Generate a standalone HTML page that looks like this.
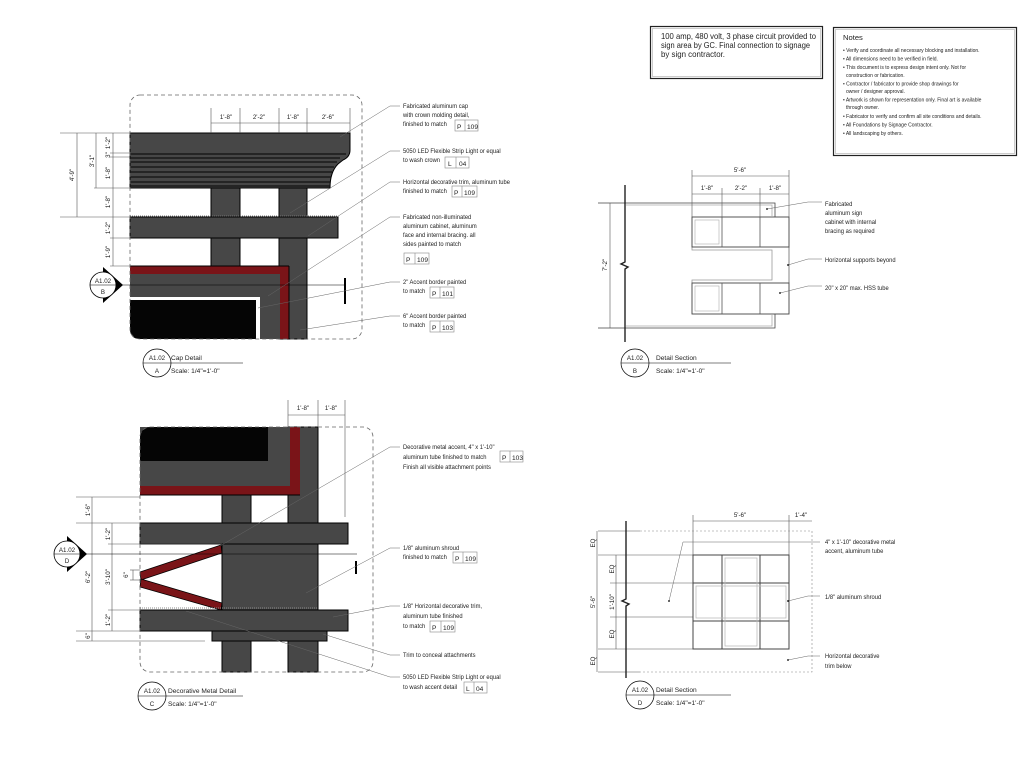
<!DOCTYPE html>
<html><head><meta charset="utf-8"><style>
html,body{margin:0;padding:0;background:#fff;}
svg{display:block;}
text{font-family:"Liberation Sans Narrow","Liberation Sans",sans-serif;fill:#222;}
.s{font-size:6.6px;}
.d{font-size:6.2px;}
.n{font-size:5px;}
</style></head><body>
<svg width="1024" height="763" viewBox="0 0 1024 763" xmlns="http://www.w3.org/2000/svg">
<rect width="1024" height="763" fill="#fff"/>

<!-- ============ CAP DETAIL (A) ============ -->
<g stroke="#000" stroke-width="1">
<rect x="211" y="186" width="29" height="82" fill="#474747"/>
<rect x="279" y="186" width="28" height="153" fill="#474747"/>
<path d="M130,133 H350 V150 Q350,157 343,160 L338,164 Q330,172 330,188 H130 Z" fill="#474747"/>
</g>
<g stroke="#111" stroke-width="1.2">
<line x1="130" y1="154" x2="346" y2="154"/><line x1="130" y1="158" x2="340" y2="158"/>
<line x1="130" y1="162" x2="337" y2="162"/><line x1="130" y1="167" x2="334" y2="167"/>
<line x1="130" y1="172" x2="332" y2="172"/><line x1="130" y1="177" x2="331" y2="177"/>
<line x1="130" y1="182" x2="330" y2="182"/><line x1="130" y1="186" x2="330" y2="186"/>
</g>
<line x1="130" y1="216" x2="338" y2="216" stroke="#777" stroke-dasharray="1,1"/>
<rect x="130" y="217" width="208" height="21" fill="#474747" stroke="#000"/>
<rect x="130" y="266" width="159" height="8" fill="#7a1418"/>
<rect x="280" y="266" width="9" height="73" fill="#7a1418"/>
<rect x="130" y="274" width="150" height="23" fill="#474747"/>
<rect x="260" y="274" width="20" height="65" fill="#474747"/>
<path d="M130,300 H256 V339 H140 Q130,339 130,329 Z" fill="#050505"/>
<line x1="130" y1="266" x2="289" y2="266" stroke="#000"/>
<line x1="289" y1="266" x2="289" y2="339" stroke="#000"/>
<rect x="130" y="95" width="232" height="244" rx="10" fill="none" stroke="#666" stroke-dasharray="4,3" stroke-width="0.8"/>
<g stroke="#555" stroke-width="0.6">
<line x1="211" y1="123" x2="350" y2="123"/>
<line x1="211" y1="108" x2="211" y2="133"/><line x1="240" y1="108" x2="240" y2="133"/>
<line x1="279" y1="108" x2="279" y2="133"/><line x1="307" y1="108" x2="307" y2="133"/>
<line x1="350" y1="108" x2="350" y2="133"/>
<line x1="60" y1="133" x2="130" y2="133"/><line x1="60" y1="217" x2="130" y2="217"/>
<line x1="77" y1="133" x2="77" y2="217"/>
<line x1="96" y1="133" x2="96" y2="188"/><line x1="94" y1="188" x2="130" y2="188"/>
<line x1="113" y1="133" x2="113" y2="266"/>
<line x1="110" y1="153" x2="130" y2="153"/><line x1="110" y1="157" x2="130" y2="157"/>
<line x1="110" y1="238" x2="130" y2="238"/><line x1="110" y1="266" x2="130" y2="266"/>
</g>
<g class="d" text-anchor="middle">
<text x="226" y="119">1'-8"</text><text x="259" y="119">2'-2"</text>
<text x="293" y="119">1'-8"</text><text x="328" y="119">2'-6"</text>
<text transform="translate(74,175) rotate(-90)">4'-9"</text>
<text transform="translate(94,161) rotate(-90)">3'-1"</text>
<text transform="translate(110,143) rotate(-90)">1'-2"</text>
<text transform="translate(110,155) rotate(-90)">3"</text>
<text transform="translate(110,173) rotate(-90)">1'-8"</text>
<text transform="translate(110,202) rotate(-90)">1'-8"</text>
<text transform="translate(110,228) rotate(-90)">1'-2"</text>
<text transform="translate(110,252) rotate(-90)">1'-9"</text>
</g>
<line x1="117" y1="285" x2="345" y2="285" stroke="#000" stroke-width="0.6"/>
<line x1="345" y1="278" x2="345" y2="304" stroke="#000" stroke-width="2"/>
<polygon points="103,267 123,285 103,303" fill="#000"/>
<circle cx="103" cy="285" r="13" fill="#fff" stroke="#000" stroke-width="0.8"/>
<line x1="90" y1="285" x2="116" y2="285" stroke="#000" stroke-width="0.6"/>
<text x="103" y="283" class="d" text-anchor="middle">A1.02</text>
<text x="103" y="294" class="d" text-anchor="middle">B</text>
<circle cx="157" cy="363" r="14" fill="none" stroke="#000" stroke-width="0.7"/>
<line x1="143" y1="363" x2="243" y2="363" stroke="#000" stroke-width="0.6"/>
<text x="157" y="360" class="d" text-anchor="middle">A1.02</text>
<text x="157" y="373" class="d" text-anchor="middle">A</text>
<text x="171" y="360" class="s" font-size="7.2">Cap Detail</text>
<text x="171" y="373" class="s">Scale:  1/4"=1'-0"</text>

<g stroke="#666" stroke-width="0.5" fill="none">
<polyline points="340,137 390,106 400,106"/>
<polyline points="290,213 390,151 400,151"/>
<polyline points="308,236 390,182 400,182"/>
<polyline points="268,296 390,217 400,217"/>
<polyline points="258,308 390,282 400,282"/>
<polyline points="300,330 390,316 400,316"/>
</g>
<g class="s" transform="matrix(0.88,0,0,1,48.36,0)">
<text x="403" y="108">Fabricated aluminum cap</text>
<text x="403" y="117">with crown molding detail,</text>
<text x="403" y="126">finished to match</text>
<text x="403" y="153">5050 LED Flexible Strip Light or equal</text>
<text x="403" y="162">to wash crown</text>
<text x="403" y="184">Horizontal decorative trim, aluminum tube</text>
<text x="403" y="193">finished to match</text>
<text x="403" y="219">Fabricated non-illuminated</text>
<text x="403" y="228">aluminum cabinet, aluminum</text>
<text x="403" y="237">face and internal bracing. all</text>
<text x="403" y="246">sides painted to match</text>
<text x="403" y="284">2" Accent border painted</text>
<text x="403" y="293">to match</text>
<text x="403" y="318">6" Accent border painted</text>
<text x="403" y="327">to match</text>
</g>
<g stroke="#888" stroke-width="0.6" fill="none">
<rect x="455" y="120" width="23" height="11"/><line x1="465" y1="120" x2="465" y2="131"/>
<rect x="445" y="157" width="24" height="11"/><line x1="456" y1="157" x2="456" y2="168"/>
<rect x="452" y="186" width="25" height="11"/><line x1="462" y1="186" x2="462" y2="197"/>
<rect x="404" y="253" width="25" height="11"/><line x1="415" y1="253" x2="415" y2="264"/>
<rect x="430" y="287" width="24" height="11"/><line x1="440" y1="287" x2="440" y2="298"/>
<rect x="430" y="321" width="24" height="11"/><line x1="440" y1="321" x2="440" y2="332"/>
</g>
<g class="s">
<text x="457" y="129">P</text><text x="467" y="129">109</text>
<text x="448" y="166">L</text><text x="459" y="166">04</text>
<text x="454" y="195">P</text><text x="464" y="195">109</text>
<text x="406" y="262">P</text><text x="417" y="262">109</text>
<text x="432" y="296">P</text><text x="442" y="296">101</text>
<text x="432" y="330">P</text><text x="442" y="330">103</text>
</g>

<!-- ============ DECORATIVE METAL DETAIL (C) ============ -->
<rect x="222" y="494" width="29" height="178" fill="#474747" stroke="#000"/>
<rect x="288" y="427" width="30" height="245" fill="#474747" stroke="#000"/>
<path d="M140,427 H272 V464 H140 Z" fill="#474747"/>
<path d="M152,427 H268 V461 H140 V439 Q140,427 152,427 Z" fill="#050505"/>
<rect x="140" y="464" width="150" height="22" fill="#474747"/>
<rect x="272" y="427" width="18" height="59" fill="#474747"/>
<rect x="140" y="486" width="160" height="9" fill="#7a1418"/>
<rect x="290" y="427" width="10" height="68" fill="#7a1418"/>
<line x1="140" y1="495" x2="300" y2="495" stroke="#000"/>
<rect x="140" y="523" width="208" height="21" fill="#474747" stroke="#000"/>
<rect x="222" y="544" width="96" height="66" fill="#474747" stroke="#000"/>
<polygon points="140,572 221,545 222,553 141,580" fill="#7a1418" stroke="#000" stroke-width="0.8"/>
<polygon points="141,579 222,603 221,610 140,587" fill="#7a1418" stroke="#000" stroke-width="0.8"/>
<line x1="140" y1="608" x2="318" y2="608" stroke="#888" stroke-dasharray="1,1"/>
<rect x="140" y="610" width="208" height="21" fill="#474747" stroke="#000"/>
<rect x="212" y="631" width="115" height="10" fill="#474747" stroke="#000"/>
<rect x="140" y="427" width="233" height="245" rx="10" fill="none" stroke="#666" stroke-dasharray="4,3" stroke-width="0.8"/>
<g stroke="#555" stroke-width="0.6">
<line x1="288" y1="415" x2="345" y2="415"/>
<line x1="288" y1="400" x2="288" y2="427"/><line x1="318" y1="400" x2="318" y2="427"/>
<line x1="345" y1="400" x2="345" y2="517"/>
<line x1="76" y1="497" x2="140" y2="497"/><line x1="76" y1="523" x2="140" y2="523"/>
<line x1="92" y1="497" x2="92" y2="641"/>
<line x1="76" y1="631" x2="140" y2="631"/><line x1="76" y1="641" x2="205" y2="641"/>
<line x1="112" y1="523" x2="112" y2="631"/>
<line x1="108" y1="544" x2="222" y2="544"/><line x1="108" y1="610" x2="140" y2="610"/>
<line x1="130" y1="570" x2="140" y2="570"/><line x1="130" y1="580" x2="140" y2="580"/>
<line x1="133" y1="570" x2="133" y2="580"/>
</g>
<g class="d" text-anchor="middle">
<text x="303" y="410">1'-8"</text><text x="331" y="410">1'-8"</text>
<text transform="translate(90,510) rotate(-90)">1'-6"</text>
<text transform="translate(90,577) rotate(-90)">6'-2"</text>
<text transform="translate(90,636) rotate(-90)">6"</text>
<text transform="translate(110,534) rotate(-90)">1'-2"</text>
<text transform="translate(110,577) rotate(-90)">3'-10"</text>
<text transform="translate(110,620) rotate(-90)">1'-2"</text>
<text transform="translate(128,575) rotate(-90)">6"</text>
</g>
<line x1="81" y1="554" x2="357" y2="554" stroke="#000" stroke-width="0.6"/>
<line x1="356" y1="561" x2="356" y2="574" stroke="#000" stroke-width="2"/>
<polygon points="67,536 87,554 67,572" fill="#000"/>
<circle cx="67" cy="554" r="13" fill="#fff" stroke="#000" stroke-width="0.8"/>
<line x1="54" y1="554" x2="80" y2="554" stroke="#000" stroke-width="0.6"/>
<text x="67" y="552" class="d" text-anchor="middle">A1.02</text>
<text x="67" y="563" class="d" text-anchor="middle">D</text>
<circle cx="152" cy="696" r="14" fill="none" stroke="#000" stroke-width="0.7"/>
<line x1="138" y1="696" x2="243" y2="696" stroke="#000" stroke-width="0.6"/>
<text x="152" y="693" class="d" text-anchor="middle">A1.02</text>
<text x="152" y="706" class="d" text-anchor="middle">C</text>
<text x="168" y="693" class="s" font-size="7.2">Decorative Metal Detail</text>
<text x="168" y="706" class="s">Scale:  1/4"=1'-0"</text>
<g stroke="#666" stroke-width="0.5" fill="none">
<polyline points="220,546 390,447 400,447"/>
<polyline points="306,593 390,548 400,548"/>
<polyline points="333,617 390,606 400,606"/>
<polyline points="323,634 390,655 400,655"/>
<polyline points="186,611 390,677 400,677"/>
</g>
<g class="s" transform="matrix(0.88,0,0,1,48.36,0)">
<text x="403" y="449">Decorative metal accent, 4" x 1'-10"</text>
<text x="403" y="459">aluminum tube finished to match</text>
<text x="403" y="469">Finish all visible attachment points</text>
<text x="403" y="550">1/8" aluminum shroud</text>
<text x="403" y="559">finished to match</text>
<text x="403" y="608">1/8" Horizontal decorative trim,</text>
<text x="403" y="618">aluminum tube finished</text>
<text x="403" y="628">to match</text>
<text x="403" y="657">Trim to conceal attachments</text>
<text x="403" y="679">5050 LED Flexible Strip Light or equal</text>
<text x="403" y="689">to wash accent detail</text>
</g>
<g stroke="#888" stroke-width="0.6" fill="none">
<rect x="500" y="451" width="23" height="11"/><line x1="510" y1="451" x2="510" y2="462"/>
<rect x="453" y="552" width="24" height="11"/><line x1="463" y1="552" x2="463" y2="563"/>
<rect x="430" y="621" width="25" height="11"/><line x1="441" y1="621" x2="441" y2="632"/>
<rect x="464" y="682" width="23" height="11"/><line x1="474" y1="682" x2="474" y2="693"/>
</g>
<g class="s">
<text x="502" y="460">P</text><text x="512" y="460">103</text>
<text x="455" y="561">P</text><text x="465" y="561">109</text>
<text x="432" y="630">P</text><text x="443" y="630">109</text>
<text x="466" y="691">L</text><text x="476" y="691">04</text>
</g>

<!-- ============ DETAIL SECTION B ============ -->
<g fill="none">
<path d="M598,203 H775 V217" stroke="#444" stroke-width="0.8"/>
<path d="M626,205 H772 V216" stroke="#aaa" stroke-width="0.8"/>
<path d="M598,328 H775 V314" stroke="#444" stroke-width="0.8"/>
<path d="M626,326 H772 V315" stroke="#aaa" stroke-width="0.8"/>
<path d="M692,247 V250 H772 V280 H692 V283" stroke="#999" stroke-width="0.8"/>
<path d="M789,247 V283" stroke="#999" stroke-width="1.2"/>
<rect x="692" y="217" width="97" height="30" stroke="#444" stroke-width="0.9"/>
<rect x="692" y="283" width="97" height="31" stroke="#444" stroke-width="0.9"/>
<g stroke="#555" stroke-width="0.8">
<line x1="722" y1="217" x2="722" y2="247"/><line x1="760" y1="217" x2="760" y2="247"/>
<line x1="722" y1="283" x2="722" y2="314"/><line x1="760" y1="283" x2="760" y2="314"/>
</g>
<rect x="695" y="220" width="24" height="24" stroke="#aaa" stroke-width="0.6"/>
<rect x="695" y="286" width="24" height="25" stroke="#aaa" stroke-width="0.6"/>
</g>
<path d="M625,185 V262 L621,264 L628,267 L625,269 V342" stroke="#222" stroke-width="1.4" fill="none"/>
<g stroke="#555" stroke-width="0.6">
<line x1="692" y1="176" x2="789" y2="176"/><line x1="692" y1="194" x2="789" y2="194"/>
<line x1="692" y1="170" x2="692" y2="217"/><line x1="722" y1="188" x2="722" y2="217"/>
<line x1="760" y1="188" x2="760" y2="217"/><line x1="789" y1="170" x2="789" y2="217"/>
<line x1="610" y1="203" x2="610" y2="328"/>
</g>
<g class="d" text-anchor="middle">
<text x="740" y="172">5'-6"</text>
<text x="707" y="190">1'-8"</text><text x="741" y="190">2'-2"</text><text x="775" y="190">1'-8"</text>
<text transform="translate(607,265) rotate(-90)">7'-2"</text>
</g>
<g stroke="#666" stroke-width="0.5" fill="none">
<polyline points="767,209 808,202 822,202"/>
<polyline points="788,265 808,259 822,259"/>
<polyline points="780,293 808,286 822,286"/>
</g>
<g fill="#000"><circle cx="767" cy="209" r="0.9"/><circle cx="788" cy="265" r="0.9"/><circle cx="780" cy="293" r="0.9"/></g>
<g class="s" transform="matrix(0.88,0,0,1,99,0)">
<text x="825" y="206">Fabricated</text>
<text x="825" y="215">aluminum sign</text>
<text x="825" y="224">cabinet with internal</text>
<text x="825" y="233">bracing as required</text>
<text x="825" y="262">Horizontal supports beyond</text>
<text x="825" y="290">20" x 20" max. HSS tube</text>
</g>
<circle cx="635" cy="363" r="14" fill="none" stroke="#000" stroke-width="0.7"/>
<line x1="621" y1="363" x2="731" y2="363" stroke="#000" stroke-width="0.6"/>
<text x="635" y="360" class="d" text-anchor="middle">A1.02</text>
<text x="635" y="373" class="d" text-anchor="middle">B</text>
<text x="656" y="360" class="s" font-size="7.2">Detail Section</text>
<text x="656" y="373" class="s">Scale:  1/4"=1'-0"</text>

<!-- ============ DETAIL SECTION D ============ -->
<g stroke="#555" stroke-width="0.6">
<line x1="598" y1="531" x2="640" y2="531"/>
<line x1="598" y1="672" x2="640" y2="672"/>
<line x1="598" y1="555" x2="693" y2="555"/>
<line x1="598" y1="649" x2="693" y2="649"/>
<line x1="610" y1="583" x2="693" y2="583"/>
<line x1="610" y1="617" x2="693" y2="617"/>
<line x1="597" y1="531" x2="597" y2="672"/>
<line x1="616" y1="555" x2="616" y2="649"/>
<line x1="693" y1="521" x2="812" y2="521"/>
<line x1="693" y1="515" x2="693" y2="555"/>
<line x1="789" y1="515" x2="789" y2="555"/>
</g>
<g stroke="#888" stroke-width="0.6" stroke-dasharray="2,2" fill="none">
<path d="M640,531 H812 V672 H640"/>
</g>
<g stroke="#444" stroke-width="1" fill="none">
<rect x="693" y="555" width="96" height="94"/>
<line x1="722" y1="555" x2="722" y2="649"/><line x1="760" y1="555" x2="760" y2="649"/>
<line x1="693" y1="583" x2="789" y2="583"/><line x1="693" y1="621" x2="789" y2="621"/>
</g>
<g stroke="#bbb" stroke-width="0.8" fill="none">
<rect x="725" y="558" width="32" height="88"/>
<rect x="696" y="586" width="90" height="32"/>
</g>
<path d="M626,521 V599 L622,601 L629,604 L626,606 V678" stroke="#222" stroke-width="1.4" fill="none"/>
<g class="d" text-anchor="middle">
<text x="740" y="517">5'-6"</text><text x="801" y="517">1'-4"</text>
<text transform="translate(595,543) rotate(-90)">EQ</text>
<text transform="translate(595,602) rotate(-90)">5'-6"</text>
<text transform="translate(595,661) rotate(-90)">EQ</text>
<text transform="translate(614,569) rotate(-90)">EQ</text>
<text transform="translate(614,602) rotate(-90)">1'-10"</text>
<text transform="translate(614,634) rotate(-90)">EQ</text>
</g>
<g stroke="#666" stroke-width="0.5" fill="none">
<polyline points="669,601 683,542 820,542"/>
<polyline points="788,601 808,596 820,596"/>
<polyline points="788,660 808,656 820,656"/>
</g>
<g fill="#000"><circle cx="669" cy="601" r="0.9"/><circle cx="788" cy="601" r="0.9"/><circle cx="788" cy="660" r="0.9"/></g>
<g class="s" transform="matrix(0.88,0,0,1,99,0)">
<text x="825" y="544">4" x 1'-10" decorative metal</text>
<text x="825" y="553">accent, aluminum tube</text>
<text x="825" y="599">1/8" aluminum shroud</text>
<text x="825" y="658">Horizontal decorative</text>
<text x="825" y="668">trim below</text>
</g>
<circle cx="640" cy="695" r="14" fill="none" stroke="#000" stroke-width="0.7"/>
<line x1="626" y1="695" x2="731" y2="695" stroke="#000" stroke-width="0.6"/>
<text x="640" y="692" class="d" text-anchor="middle">A1.02</text>
<text x="640" y="705" class="d" text-anchor="middle">D</text>
<text x="656" y="692" class="s" font-size="7.2">Detail Section</text>
<text x="656" y="705" class="s">Scale:  1/4"=1'-0"</text>

<!-- ============ TOP BOXES ============ -->
<rect x="650.5" y="26.5" width="172" height="52" fill="none" stroke="#222" stroke-width="1.2"/>
<rect x="652.5" y="28.5" width="168" height="48" fill="none" stroke="#aaa" stroke-width="0.6"/>
<g font-size="8.6px">
<text x="661" y="39" textLength="155" lengthAdjust="spacingAndGlyphs">100 amp, 480 volt, 3 phase circuit provided to</text>
<text x="661" y="48" textLength="149" lengthAdjust="spacingAndGlyphs">sign area by GC. Final connection to signage</text>
<text x="661" y="57" textLength="64" lengthAdjust="spacingAndGlyphs">by sign contractor.</text>
</g>
<rect x="833.5" y="27.5" width="183" height="128" fill="none" stroke="#222" stroke-width="1.2"/>
<rect x="835.5" y="29.5" width="179" height="124" fill="none" stroke="#aaa" stroke-width="0.6"/>
<text x="843" y="40" font-size="7.6px">Notes</text>
<g class="n">
<text x="843" y="52">• Verify and coordinate all necessary blocking and installation.</text>
<text x="843" y="60.5">• All dimensions need to be verified in field.</text>
<text x="843" y="69">• This document is to express design intent only. Not for</text>
<text x="846" y="77">construction or fabrication.</text>
<text x="843" y="85.5">• Contractor / fabricator to provide shop drawings for</text>
<text x="846" y="93">owner / designer approval.</text>
<text x="843" y="101.5">• Artwork is shown for representation only. Final art is available</text>
<text x="846" y="109">through owner.</text>
<text x="843" y="118">• Fabricator to verify and confirm all site conditions and details.</text>
<text x="843" y="126.5">• All Foundations by Signage Contractor.</text>
<text x="843" y="135">• All landscaping by others.</text>
</g>
</svg>
</body></html>
